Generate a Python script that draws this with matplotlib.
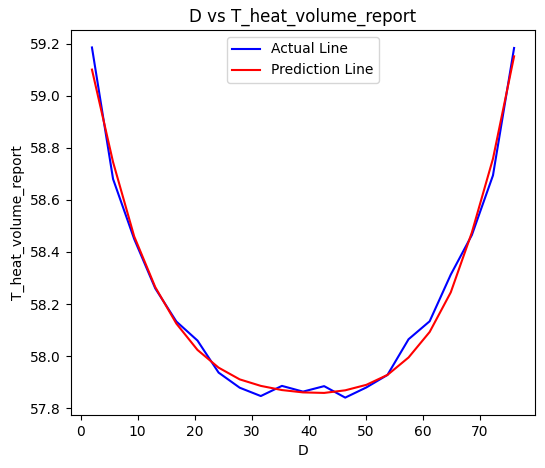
import matplotlib
matplotlib.use("Agg")
import matplotlib.pyplot as plt

d_values = [2.0, 5.7, 9.4, 13.1, 16.8, 20.5, 24.2, 27.9, 31.6, 35.3, 39.0,
            42.7, 46.4, 50.1, 53.8, 57.5, 61.2, 64.9, 68.6, 72.3, 76.0]
actual = [59.185, 58.68, 58.45, 58.26, 58.133, 58.06, 57.937, 57.879, 57.847, 57.886, 57.864,
          57.885, 57.841, 57.880, 57.928, 58.065, 58.134, 58.313, 58.465, 58.694, 59.183]
predicted = [59.10, 58.745, 58.46, 58.265, 58.125, 58.024, 57.956, 57.911, 57.886, 57.870, 57.861,
             57.859, 57.869, 57.890, 57.928, 57.995, 58.093, 58.245, 58.475, 58.758, 59.151]

fig = plt.figure(figsize=(5.45, 4.68), dpi=100)
ax = fig.add_axes([0.130, 0.113, 0.852, 0.823])
ax.plot(d_values, actual, color='blue', label='Actual Line')
ax.plot(d_values, predicted, color='red', label='Prediction Line')
ax.set_title('D vs T_heat_volume_report')
ax.set_xlabel('D')
ax.set_ylabel('T_heat_volume_report')
ax.legend(loc='upper center')
fig.savefig('out.png', dpi=100)
